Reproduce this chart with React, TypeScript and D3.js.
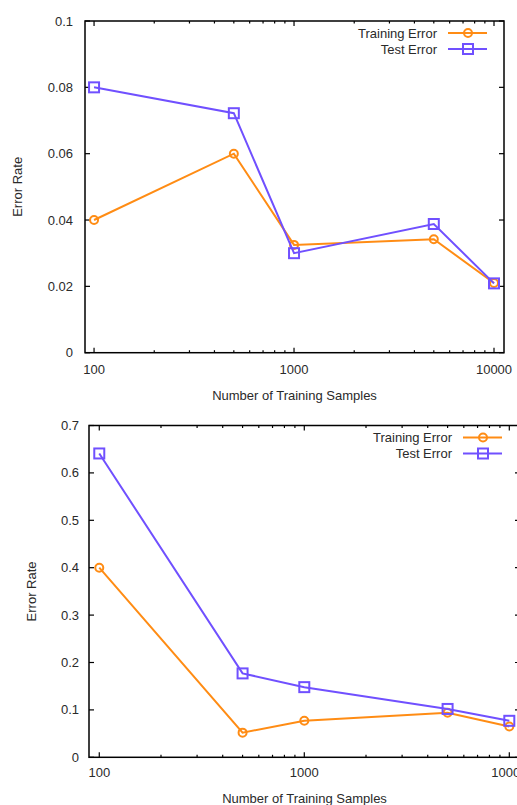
import { useEffect, useRef } from 'react';
import * as d3 from 'd3';

const ORANGE = '#ff8c14';
const BLUE = '#7050ff';

const SAMPLES = [100, 500, 1000, 5000, 10000];
const X_TICKS = [100, 1000, 10000];
const X_MINOR = [200, 300, 400, 500, 600, 700, 800, 900, 2000, 3000, 4000, 5000, 6000, 7000, 8000, 9000];

// top plot
const TRAIN_A = [0.04, 0.06, 0.0325, 0.0342, 0.021];
const TEST_A = [0.08, 0.0722, 0.030, 0.0388, 0.0209];
const Y_TICKS_A = [0, 0.02, 0.04, 0.06, 0.08, 0.1];
const Y_LABELS_A = ['0', '0.02', '0.04', '0.06', '0.08', '0.1'];

// bottom plot
const TRAIN_B = [0.40, 0.052, 0.077, 0.094, 0.065];
const TEST_B = [0.641, 0.177, 0.148, 0.102, 0.077];
const Y_TICKS_B = [0, 0.1, 0.2, 0.3, 0.4, 0.5, 0.6, 0.7];
const Y_LABELS_B = ['0', '0.1', '0.2', '0.3', '0.4', '0.5', '0.6', '0.7'];

const FONT = '"Liberation Sans", Arial, sans-serif';

function drawPanel(svg, cfg) {
  const { left, right, top, bottom, xDomain, yMax, yTicks, yLabels, train, test, yLabX, xLabDy, tickLabDx, tickLabDy, legRight } = cfg;
  const x = d3.scaleLog().domain(xDomain).range([left, right]);
  const y = d3.scaleLinear().domain([0, yMax]).range([bottom, top]);
  const g = svg.append('g');

  // frame
  g.append('rect')
    .attr('x', left).attr('y', top)
    .attr('width', right - left).attr('height', bottom - top)
    .attr('fill', 'none').attr('stroke', '#000').attr('stroke-width', 1.5);

  // x ticks (inward, bottom & top)
  X_TICKS.forEach(v => {
    [[bottom, -5], [top, 5]].forEach(([yy, d]) => {
      g.append('line').attr('x1', x(v)).attr('x2', x(v)).attr('y1', yy).attr('y2', yy + d)
        .attr('stroke', '#000').attr('stroke-width', 1.2);
    });
    g.append('text').attr('x', x(v)).attr('y', bottom + tickLabDy)
      .attr('text-anchor', 'middle').text(String(v));
  });
  X_MINOR.forEach(v => {
    [[bottom, -2.5], [top, 2.5]].forEach(([yy, d]) => {
      g.append('line').attr('x1', x(v)).attr('x2', x(v)).attr('y1', yy).attr('y2', yy + d)
        .attr('stroke', '#000').attr('stroke-width', 1.2);
    });
  });

  // y ticks (inward, left & right)
  yTicks.forEach((v, i) => {
    [[left, 5], [right, -5]].forEach(([xx, d]) => {
      g.append('line').attr('x1', xx).attr('x2', xx + d).attr('y1', y(v)).attr('y2', y(v))
        .attr('stroke', '#000').attr('stroke-width', 1.2);
    });
    g.append('text').attr('x', left - tickLabDx).attr('y', y(v) + 4.5)
      .attr('text-anchor', 'end').text(yLabels[i]);
  });

  // axis titles
  g.append('text').attr('x', (left + Math.min(right, 517 + 5)) / 2).attr('y', bottom + xLabDy)
    .attr('text-anchor', 'middle').text('Number of Training Samples');
  g.append('text')
    .attr('transform', `translate(${yLabX},${(top + bottom) / 2}) rotate(-90)`)
    .attr('text-anchor', 'middle').text('Error Rate');

  const line = d3.line().x((d, i) => x(SAMPLES[i])).y(d => y(d));

  const circle = (sel, cx, cy) => sel.append('circle').attr('cx', cx).attr('cy', cy).attr('r', 4)
    .attr('fill', 'none').attr('stroke', ORANGE).attr('stroke-width', 2);
  const square = (sel, cx, cy) => sel.append('rect').attr('x', cx - 5).attr('y', cy - 5)
    .attr('width', 10).attr('height', 10)
    .attr('fill', 'none').attr('stroke', BLUE).attr('stroke-width', 2);

  g.append('path').datum(train).attr('d', line).attr('fill', 'none')
    .attr('stroke', ORANGE).attr('stroke-width', 2);
  train.forEach((v, i) => circle(g, x(SAMPLES[i]), y(v)));

  g.append('path').datum(test).attr('d', line).attr('fill', 'none')
    .attr('stroke', BLUE).attr('stroke-width', 2);
  test.forEach((v, i) => square(g, x(SAMPLES[i]), y(v)));

  // legend
  const rows = [
    { label: 'Training Error', color: ORANGE, mark: circle },
    { label: 'Test Error', color: BLUE, mark: square },
  ];
  rows.forEach((r, i) => {
    const ly = top + 12 + i * 16;
    g.append('text').attr('x', legRight).attr('y', ly + 4.5).attr('text-anchor', 'end').text(r.label);
    g.append('line').attr('x1', legRight + 11).attr('x2', legRight + 50).attr('y1', ly).attr('y2', ly)
      .attr('stroke', r.color).attr('stroke-width', 2);
    r.mark(g, legRight + 31, ly);
  });
}

export default function App() {
  const ref = useRef(null);

  useEffect(() => {
    const svg = d3.select(ref.current);
    svg.selectAll('*').remove();
    svg.attr('font-family', FONT).attr('font-size', 13).attr('fill', '#2a2a2a');

    drawPanel(svg, {
      left: 85, right: 504, top: 21, bottom: 352.7,
      xDomain: [90.1, 11220], yMax: 0.1,
      yTicks: Y_TICKS_A, yLabels: Y_LABELS_A,
      train: TRAIN_A, test: TEST_A,
      yLabX: 22, xLabDy: 47, tickLabDx: 12, tickLabDy: 21, legRight: 437,
    });
    drawPanel(svg, {
      left: 89, right: 520, top: 425.5, bottom: 757.3,
      xDomain: [89.1, 11276], yMax: 0.7,
      yTicks: Y_TICKS_B, yLabels: Y_LABELS_B,
      train: TRAIN_B, test: TEST_B,
      yLabX: 36, xLabDy: 46, tickLabDx: 10, tickLabDy: 20, legRight: 452,
    });
  }, []);

  return (
    <svg ref={ref} width={517} height={805}
      style={{ position: 'absolute', left: 0, top: 0, background: '#fff' }} />
  );
}
